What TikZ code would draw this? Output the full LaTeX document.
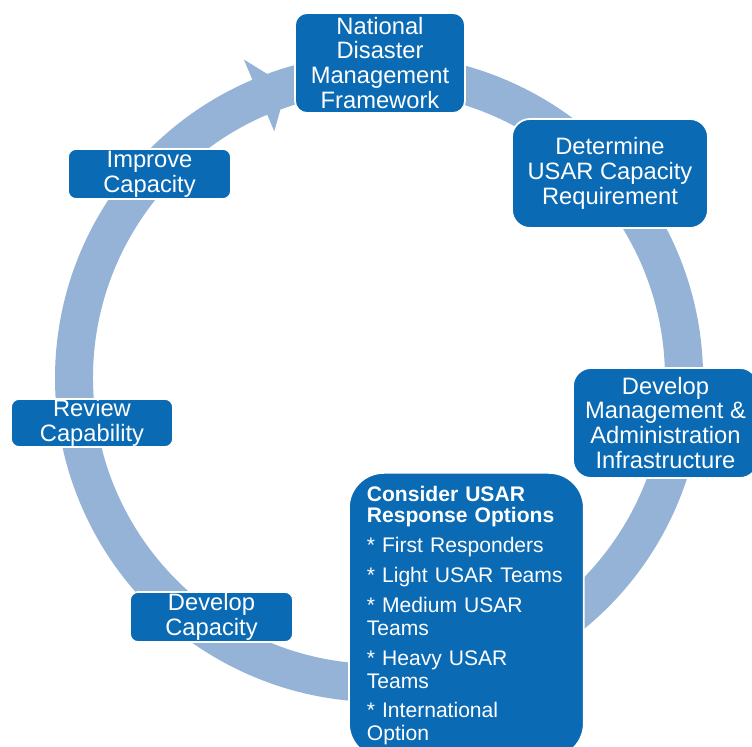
\documentclass[tikz,border=0pt]{standalone}
\usepackage{fontspec}
\setmainfont{Liberation Sans}
\usepackage{tikz}
\usetikzlibrary{positioning}

\definecolor{stepblue}{RGB}{10,106,180}
\definecolor{ringblue}{RGB}{149,179,215}

\begin{document}
\begin{tikzpicture}[x=0.02cm, y=0.02cm,
    box/.style={fill=stepblue, draw=white, line width=1pt, text=white, align=center,
        font=\fontsize{13.5}{14.2}\selectfont, inner sep=0pt},
    smallbox/.style={box, rounded corners=0.16cm, minimum width=3.26cm, minimum height=1cm}]
    \useasboundingbox (0,0) rectangle (752,747);

    % Cycle ring, clockwise, ending in the arrow head next to the framework box
    \coordinate (ring) at (379,369);
    \fill [ringblue, shift={(ring)}] (113:324) arc[start angle=113, end angle=-265, radius=324]
        -- (-265:286) arc[start angle=-265, end angle=113, radius=286]
        -- (113:268) -- (107.5:306) -- (113:346) -- cycle;

    % Steps of the cycle
    \node [box, rounded corners=0.24cm, minimum width=3.4cm, minimum height=2cm] (framework) at (380,684) {National\\Disaster\\Management\\Framework};
    \node [box, rounded corners=0.36cm, minimum width=3.92cm, minimum height=2.18cm] (requirement) at (610,573.5) {Determine\\USAR Capacity\\Requirement};
    \node [box, rounded corners=0.36cm, minimum width=3.7cm, minimum height=2.2cm] (infrastructure) at (665.5,324) {Develop\\Management \&\\Administration\\Infrastructure};

    % Response options, text set to the left
    \node [box, anchor=north west, align=left, text width=3.98cm, inner xsep=0.36cm, inner ysep=0.26cm,
        rounded corners=0.7cm, font=\fontsize{12}{13}\selectfont] (options) at (348,275)
        {{\bfseries Consider USAR}\\[-0.6pt]{\bfseries Response Options}\\[4pt]
         * First Responders\\[4pt]
         * Light USAR Teams\\[4pt]
         * Medium USAR\\Teams\\[4pt]
         * Heavy USAR\\Teams\\[4pt]
         * International\\Option};

    \node [smallbox] (devcapacity) at (211.5,130) {Develop\\Capacity};
    \node [smallbox, minimum width=3.24cm, minimum height=0.96cm] (review) at (92,324) {Review\\Capability};
    \node [smallbox] (improve) at (149.5,573) {Improve\\Capacity};

\end{tikzpicture}
\end{document}
